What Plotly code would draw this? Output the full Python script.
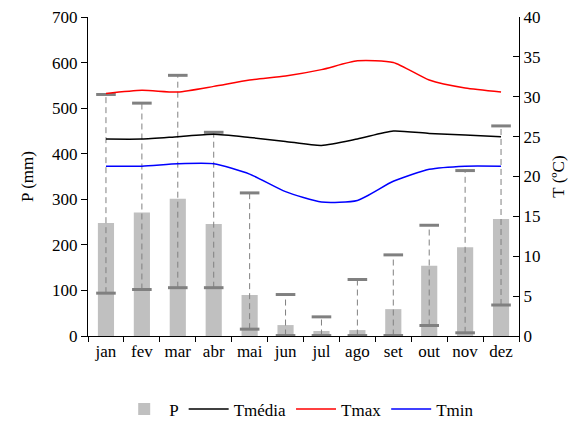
import plotly.graph_objects as go

months = ["jan", "fev", "mar", "abr", "mai", "jun", "jul", "ago", "set", "out", "nov", "dez"]
P = [248, 271, 301, 246, 90, 24, 11, 13, 59, 154, 195, 257]
P_max = [530, 511, 572, 447, 314, 91, 42, 124, 178, 243, 363, 461]
P_min = [94, 102, 106, 106, 15, 1, 1, 1, 1, 23, 7, 68]
T_media = [24.7, 24.7, 25.0, 25.3, 24.9, 24.4, 23.9, 24.7, 25.7, 25.4, 25.2, 25.0]
T_max = [30.4, 30.8, 30.6, 31.3, 32.1, 32.6, 33.4, 34.5, 34.3, 32.1, 31.1, 30.6]
T_min = [21.3, 21.3, 21.6, 21.6, 20.3, 18.1, 16.8, 17.0, 19.4, 20.9, 21.3, 21.3]

FONT = "Liberation Serif, Times New Roman, serif"
GRAY = "#808080"
FS = 17

fig = go.Figure()
fig.add_trace(go.Bar(x=months, y=P, name="P", marker=dict(color="#c0c0c0", line=dict(width=0)),
                     width=0.45, yaxis="y"))

ex, ey = [], []
for m, lo, hi in zip(months, P_min, P_max):
    ex += [m, m, None]
    ey += [lo, hi, None]
fig.add_trace(go.Scatter(x=ex, y=ey, mode="lines", line=dict(color=GRAY, width=1, dash="6px,4px"),
                         showlegend=False, hoverinfo="skip", yaxis="y"))
fig.add_trace(go.Scatter(x=months + months, y=P_max + P_min, mode="markers",
                         marker=dict(symbol="line-ew", size=14, line=dict(color=GRAY, width=3)),
                         showlegend=False, hoverinfo="skip", yaxis="y"))

fig.add_trace(go.Scatter(x=months, y=T_media, name="Tmédia", mode="lines",
                         line=dict(color="black", width=1.5, shape="spline", smoothing=0.6), yaxis="y2"))
fig.add_trace(go.Scatter(x=months, y=T_max, name="Tmax", mode="lines",
                         line=dict(color="red", width=1.5, shape="spline", smoothing=0.6), yaxis="y2"))
fig.add_trace(go.Scatter(x=months, y=T_min, name="Tmin", mode="lines",
                         line=dict(color="blue", width=1.5, shape="spline", smoothing=0.6), yaxis="y2"))

fig.update_layout(
    width=580, height=413,
    margin=dict(l=80, r=69, t=9, b=85, autoexpand=False),
    plot_bgcolor="white", paper_bgcolor="white",
    font=dict(family=FONT, size=FS, color="black"),
    showlegend=True,
    legend=dict(orientation="h", x=0.49, xanchor="center",
                y=-0.23, yanchor="middle",
                itemwidth=40, font=dict(family=FONT, size=FS), traceorder="normal"),
    xaxis=dict(type="category", range=[-0.5, 11.5], showline=True, linecolor="black", linewidth=1,
               ticks="outside", ticklen=5, tickcolor="black", tickson="boundaries",
               showgrid=False, zeroline=False, automargin=False),
    yaxis=dict(range=[0, 700], dtick=100, showline=True, linecolor="black", linewidth=1,
               ticks="outside", ticklen=6, tickcolor="black", showgrid=False, zeroline=False,
               automargin=False, ticklabeloverflow="allow",
               title=dict(text="P (mm)", font=dict(family=FONT, size=FS), standoff=14)),
    yaxis2=dict(range=[0, 40], dtick=5, overlaying="y", side="right", showline=True,
                linecolor="black", linewidth=1, ticks="inside", ticklen=6, tickcolor="black",
                showgrid=False, zeroline=False, automargin=False, ticklabeloverflow="allow",
                title=dict(text="T (ºC)", font=dict(family=FONT, size=FS), standoff=12)),
)

fig.write_html("out.html")
